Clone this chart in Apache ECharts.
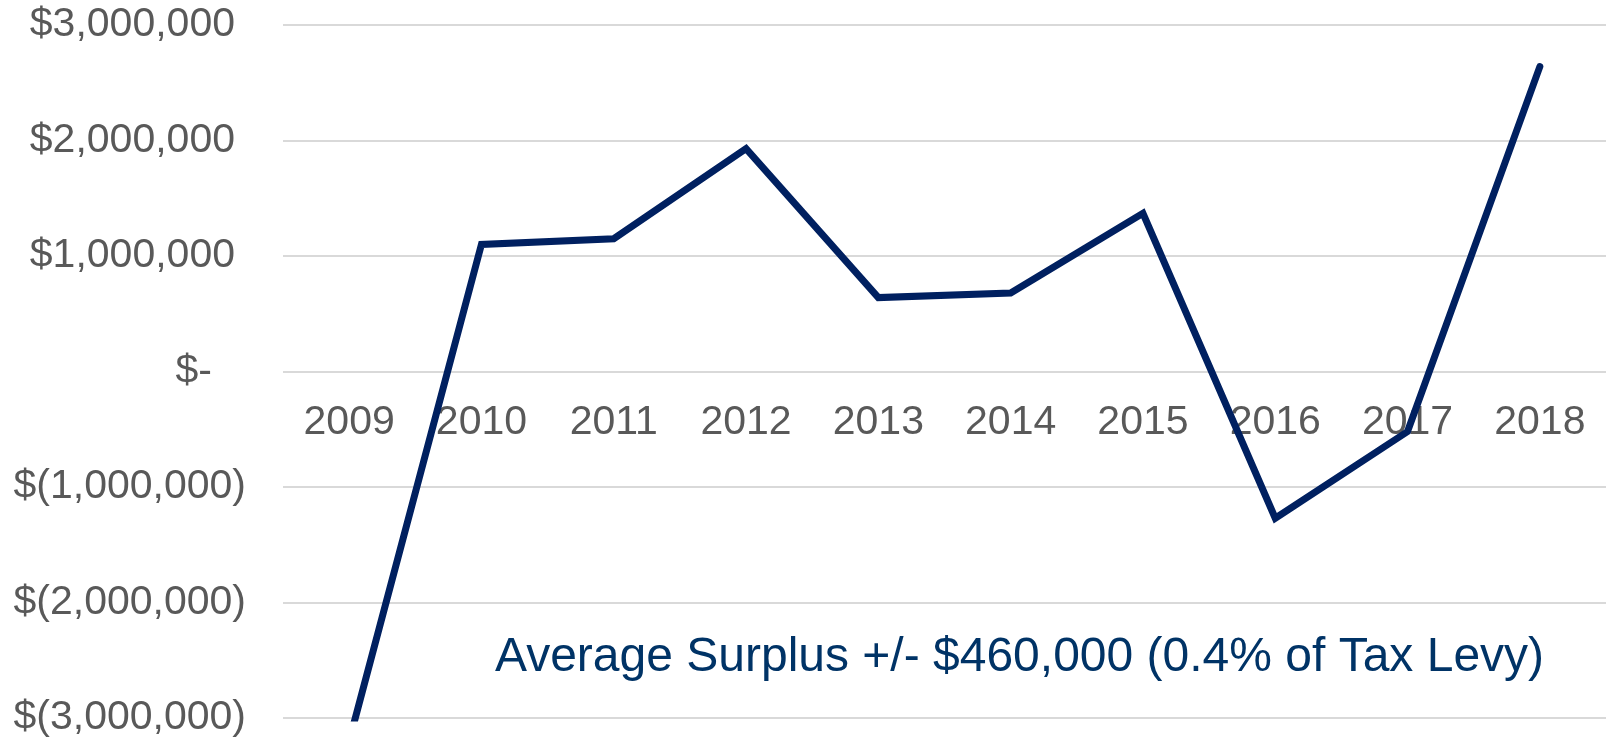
<!DOCTYPE html>
<html>
<head>
<meta charset="utf-8">
<script src="https://cdn.jsdelivr.net/npm/echarts@6/dist/echarts.min.js"></script>
<style>
  html, body { margin: 0; padding: 0; background: #fff; }
  #chart { width: 1610px; height: 740px; }
</style>
</head>
<body>
<div id="chart"></div>
<script>
// fiscal years
const years = ['2009', '2010', '2011', '2012', '2013', '2014', '2015', '2016', '2017', '2018']
// surplus / deficit per year
const surplus = [-3200000, 1100000, 1150000, 1930000, 640000, 680000, 1370000, -1270000, -520000, 2640000]
const noteText = 'Average Surplus +/- $460,000 (0.4% of Tax Levy)'

const textColor = '#595959'
const lineColor = '#002060'
const gridTop = 25
const gridBottom = 22

function money (v) {
  if (v === 0) return '{zero|$-}'
  const s = Math.abs(v).toLocaleString('en-US')
  return v < 0 ? '{neg|$(' + s + ')}' : '{pos|$' + s + '}'
}

const labelFont = { color: textColor, fontFamily: 'Liberation Sans, Arial', fontSize: 41 }

const chart = echarts.init(document.getElementById('chart'))
chart.setOption({
  animation: false,
  grid: { left: 283, right: 4, top: gridTop, bottom: gridBottom, containLabel: false, outerBoundsMode: 'none' },
  xAxis: {
    type: 'category',
    data: years,
    position: 'bottom',
    // put the year labels on the zero line
    offset: -(740 - gridTop - gridBottom) / 2,
    axisLine: { show: false, onZero: false },
    axisTick: { show: false },
    axisLabel: {
      color: textColor,
      fontFamily: 'Liberation Sans, Arial',
      fontSize: 41,
      margin: 31
    }
  },
  yAxis: {
    type: 'value',
    min: -3000000,
    max: 3000000,
    interval: 1000000,
    axisLine: { show: false },
    axisTick: { show: false },
    splitLine: { lineStyle: { color: '#d9d9d9', width: 2 } },
    axisLabel: {
      margin: 37,
      formatter: money,
      rich: {
        pos: Object.assign({ padding: [0, 11, 0, 0] }, labelFont),
        neg: Object.assign({}, labelFont),
        zero: Object.assign({ padding: [0, 34, 0, 0] }, labelFont)
      }
    }
  },
  series: [{
    type: 'line',
    data: surplus,
    showSymbol: false,
    clip: true,
    lineStyle: { color: lineColor, width: 7, join: 'miter', cap: 'round' }
  }],
  graphic: [{
    type: 'text',
    left: 495,
    top: 634,
    style: {
      text: noteText,
      fill: '#003366',
      font: '48px "Liberation Sans", Arial'
    }
  }]
})
</script>
</body>
</html>
